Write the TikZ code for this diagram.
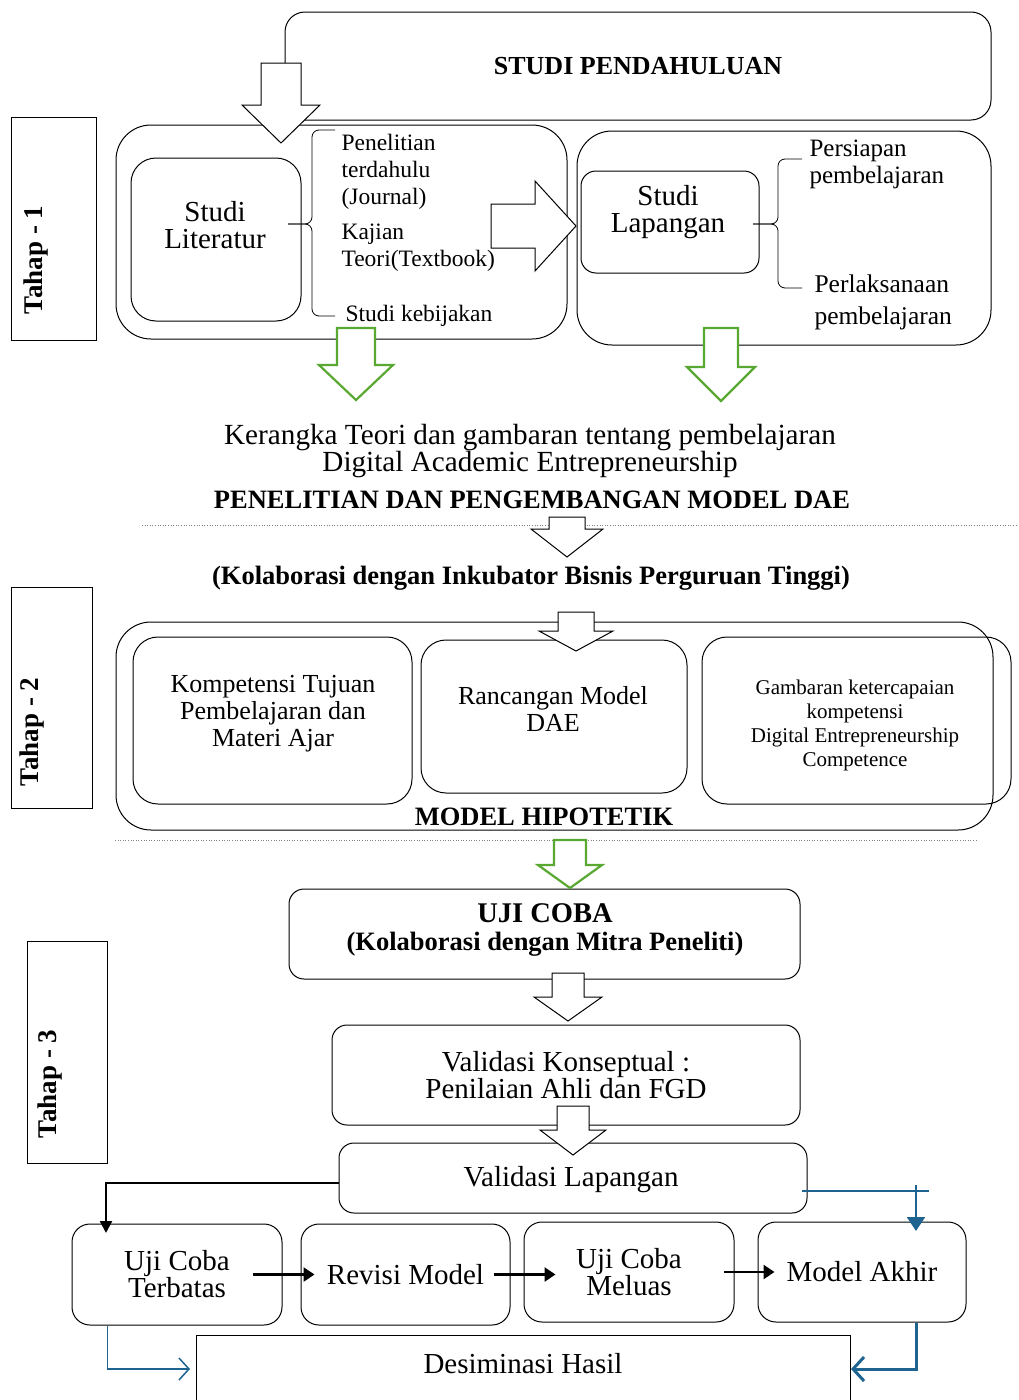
\documentclass[tikz,border=0pt]{standalone}
\usepackage{fontspec}
\setmainfont{Liberation Serif}
\usetikzlibrary{arrows.meta}

\definecolor{arrowgreen}{RGB}{88,168,50}
\definecolor{flowblue}{RGB}{31,99,145}

% hollow down arrow: style, x, top, wing, tip, half shaft, half head
\newcommand\blockdown[7][]{%
  \draw[blockarrow,#1] (#2-#6,#3) -- (#2+#6,#3) -- (#2+#6,#4) -- (#2+#7,#4)
    -- (#2,#5) -- (#2-#7,#4) -- (#2-#6,#4) -- cycle;}

\tikzset{
  rbox/.style={draw, rounded corners=#1, line width=1pt, inner sep=0pt, align=center},
  rbox/.default=15pt,
  tahapbox/.style={draw, line width=0.8pt},
  tahaplabel/.style={rotate=90, font=\fontsize{27}{27}\selectfont\bfseries},
  blockarrow/.style={draw, fill=white, line width=1pt, line join=miter},
  greenarrow/.style={draw=arrowgreen, line width=2.2pt},
  txtbig/.style={font=\fontsize{29}{27}\selectfont, align=center},
  txtmid/.style={font=\fontsize{26}{27}\selectfont, align=center},
  txtsmall/.style={font=\fontsize{23.5}{27}\selectfont, align=left},
  txtbold/.style={font=\fontsize{26.5}{27}\selectfont\bfseries, align=center},
  sep/.style={gray, dotted, line width=0.6pt},
  flowarrow/.style={line width=2.5pt, -{Triangle[length=11pt,width=14pt]}},
}

\begin{document}
\begin{tikzpicture}[x=1pt, y=-1pt]
\useasboundingbox (0,0) rectangle (1018,1400);

%% Tahap - 1
\node[tahapbox, minimum width=85pt, minimum height=223pt] (tahap1) at (53.5,228.5) {};
\node[tahaplabel] (tahap1txt) at (36,260) {Tahap - 1};

\node[rbox=20pt, minimum width=706pt, minimum height=108pt,
  font=\fontsize{26}{27}\selectfont\bfseries] (pendahuluan) at (638,66) {STUDI PENDAHULUAN};

\node[rbox=35pt, minimum width=451pt, minimum height=214pt] (groupL) at (341.5,232) {};
\node[rbox=25pt, minimum width=170pt, minimum height=163pt] (literatur) at (216,239.5) {};
\node[txtbig] (literaturtxt) at (215,225) {Studi\\Literatur};

\draw[line width=0.8pt, rounded corners=7pt] (335,130) -| (312,224) -- (288,224);
\draw[line width=0.8pt, rounded corners=7pt] (335,316) -| (312,224) -- (288,224);
\node[txtsmall, anchor=west] (penelitian) at (338,172) {Penelitian\\terdahulu\\(Journal)};
\node[txtsmall, anchor=west] (kajian) at (338,248) {Kajian\\Teori(Textbook)};
\node[txtsmall, anchor=west] (kebijakan) at (342,316) {Studi kebijakan};

\node[rbox=35pt, minimum width=414pt, minimum height=214pt] (groupR) at (784,238) {};
\node[rbox=15pt, minimum width=178pt, minimum height=102pt] (lapangan) at (670,222) {};
\node[txtbig] (lapangantxt) at (668,212) {Studi\\Lapangan};

\draw[line width=0.8pt, rounded corners=7pt] (802,159) -| (778,224) -- (753,224);
\draw[line width=0.8pt, rounded corners=7pt] (802,288) -| (778,224) -- (753,224);
\node[font=\fontsize{25}{27}\selectfont, align=left, anchor=west] (persiapan) at (806,164) {Persiapan\\pembelajaran};
\node[font=\fontsize{25.5}{32}\selectfont, align=left, anchor=west] (perlaksanaan) at (811,302) {Perlaksanaan\\pembelajaran};

\blockdown{281}{63}{105}{143}{20}{39}
\draw[blockarrow] (491,204) -- (535,204) -- (535,181) -- (576,226) -- (535,271)
  -- (535,248) -- (491,248) -- cycle;
\blockdown[greenarrow]{356}{328}{365}{400}{19}{37}
\blockdown[greenarrow]{721}{328}{367}{401}{17}{34}

\node[font=\fontsize{29.2}{26}\selectfont, align=center] (kerangka) at (530,451)
  {Kerangka Teori dan gambaran tentang pembelajaran\\Digital Academic Entrepreneurship};
\node[txtbold] (penelitianDAE) at (532,500) {PENELITIAN DAN PENGEMBANGAN MODEL DAE};
\draw[sep] (142,525) -- (1018,525);
\blockdown{567}{517}{529}{557}{18}{36}
\node[txtbold] (inkubator) at (531,578) {(Kolaborasi dengan Inkubator Bisnis Perguruan Tinggi)};

%% Tahap - 2
\node[tahapbox, minimum width=81pt, minimum height=221pt] (tahap2) at (51.5,697.5) {};
\node[tahaplabel] (tahap2txt) at (32,732) {Tahap - 2};

\node[rbox=35pt, minimum width=877pt, minimum height=208pt] (hipotetik) at (554.5,726) {};
\node[rbox=25pt, minimum width=279pt, minimum height=167pt] (kompetensi) at (272.5,720.5) {};
\node[txtmid] (kompetensitxt) at (273,714) {Kompetensi Tujuan\\Pembelajaran dan\\Materi Ajar};
\node[rbox=25pt, minimum width=266pt, minimum height=153pt] (rancangan) at (554,716.5) {};
\node[txtmid] (rancangantxt) at (553,709) {Rancangan Model\\DAE};
\node[rbox=25pt, minimum width=309pt, minimum height=167pt] (gambaran) at (856.5,720.5) {};
\node[font=\fontsize{21}{24}\selectfont, align=center] (gambarantxt) at (855,725)
  {Gambaran ketercapaian\\kompetensi\\Digital Entrepreneurship\\Competence};
\node[txtbold] (hipotetiktxt) at (544,817) {MODEL HIPOTETIK};
\blockdown{576}{612}{631}{651}{18}{37}
\draw[sep] (115,840) -- (978,840);

%% Tahap - 3
\node[tahapbox, minimum width=80pt, minimum height=222pt] (tahap3) at (67,1052) {};
\node[tahaplabel] (tahap3txt) at (50,1084) {Tahap - 3};

\node[rbox=15pt, minimum width=511pt, minimum height=90pt] (ujicoba) at (544.5,934) {};
\node[font=\fontsize{28.5}{27}\selectfont\bfseries] (ujicobatxt) at (545,913) {UJI COBA};
\node[txtbold] (mitra) at (545,944) {(Kolaborasi dengan Mitra Peneliti)};
\blockdown[greenarrow]{570}{840}{865}{888}{16}{32}

\node[rbox=15pt, minimum width=468pt, minimum height=100pt, txtbig] (konseptual) at (566,1075)
  {Validasi Konseptual :\\Penilaian Ahli dan FGD};
\blockdown{568}{973}{997}{1021}{16}{34}

\node[rbox=15pt, minimum width=468pt, minimum height=70pt] (valLap) at (573,1178) {};
\node[txtbig] (valLaptxt) at (571,1180) {Validasi Lapangan};
\blockdown{573}{1106}{1130}{1155}{16}{33}

\node[rbox=18pt, minimum width=210pt, minimum height=101pt, txtbig] (ujiT) at (177,1274.5) {Uji Coba\\Terbatas};
\node[rbox=18pt, minimum width=209pt, minimum height=101pt, txtbig] (revisi) at (405.5,1274.5) {Revisi Model};
\node[rbox=18pt, minimum width=210pt, minimum height=100pt, txtbig] (ujiM) at (629,1272) {Uji Coba\\Meluas};
\node[rbox=18pt, minimum width=208pt, minimum height=100pt, txtbig] (akhir) at (862,1272) {Model Akhir};
\node[draw, line width=1pt, minimum width=654pt, minimum height=75pt] (desim) at (523,1372.5) {};
\node[txtbig] (desimtxt) at (523,1364) {Desiminasi Hasil};

\draw[flowarrow] ([xshift=-30pt]ujiT.east) -- ([xshift=14pt]revisi.west);
\draw[flowarrow] ([xshift=-17pt]revisi.east) -- ([xshift=32pt]ujiM.west |- revisi.east);
\draw[flowarrow] ([xshift=-11pt]ujiM.east) -- ([xshift=17pt]akhir.west);

\coordinate (terbatasIn) at (106,1233);
\draw[line width=2.5pt, -{Triangle[length=12pt,width=12pt]}] ([yshift=-5pt]valLap.west) -| (terbatasIn);

\coordinate (blueA) at (802,1191);
\coordinate (blueB) at (929,1191);
\coordinate (akhirIn) at (916,1231);
\draw[flowblue, line width=2.5pt] (blueA) -- (blueB);
\draw[flowblue, line width=2pt, -{Triangle[length=14pt,width=18pt]}] (916,1185) -- (akhirIn);

\coordinate (desimL) at (190,1369);
\coordinate (desimR) at (851,1369);
\draw[flowblue, line width=1.5pt, -{Straight Barb[length=10pt,width=22pt]}] ([xshift=36pt]ujiT.south west) |- (desimL);
\draw[flowblue, line width=3pt, -{Straight Barb[length=11pt,width=24pt]}] ([xshift=54pt]akhir.south) |- (desimR);
\end{tikzpicture}
\end{document}
